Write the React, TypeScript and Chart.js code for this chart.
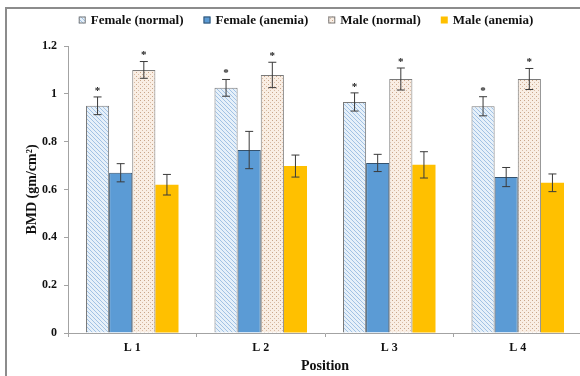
import React, { useEffect, useRef } from 'react';
import { Chart, registerables } from 'chart.js';

Chart.register(...registerables);

const categories = ['L 1', 'L 2', 'L 3', 'L 4'];
const seriesLabels = ['Female (normal)', 'Female (anemia)', 'Male (normal)', 'Male (anemia)'];

const femaleNormal = [0.95, 1.025, 0.966, 0.948];
const femaleNormalErr = [0.037, 0.035, 0.038, 0.04];
const femaleAnemia = [0.67, 0.765, 0.711, 0.652];
const femaleAnemiaErr = [0.038, 0.078, 0.036, 0.04];
const maleNormal = [1.1, 1.079, 1.062, 1.062];
const maleNormalErr = [0.035, 0.053, 0.046, 0.044];
const maleAnemia = [0.62, 0.698, 0.703, 0.628];
const maleAnemiaErr = [0.043, 0.046, 0.055, 0.037];

const yMin = 0;
const yMax = 1.2;
const yStep = 0.2;

const SERIF = "'Liberation Serif', 'Times New Roman', serif";

function makeHatch(): CanvasPattern | string {
  const c = document.createElement('canvas');
  c.width = 4;
  c.height = 4;
  const g = c.getContext('2d');
  if (!g) return '#DEEBF7';
  g.fillStyle = '#E6F0F9';
  g.fillRect(0, 0, 4, 4);
  g.strokeStyle = '#A2C2E4';
  g.lineWidth = 1;
  g.beginPath();
  g.moveTo(-1, -1);
  g.lineTo(5, 5);
  g.moveTo(3, -1);
  g.lineTo(5, 1);
  g.moveTo(-1, 3);
  g.lineTo(1, 5);
  g.stroke();
  return g.createPattern(c, 'repeat') || '#DEEBF7';
}

function makeDots(): CanvasPattern | string {
  const c = document.createElement('canvas');
  c.width = 4;
  c.height = 4;
  const g = c.getContext('2d');
  if (!g) return '#FBE5D6';
  g.fillStyle = '#F9EEE4';
  g.fillRect(0, 0, 4, 4);
  g.fillStyle = '#C9A589';
  g.fillRect(0, 0, 1, 1);
  g.fillStyle = '#D8BBA4';
  g.fillRect(2, 2, 1, 1);
  return g.createPattern(c, 'repeat') || '#FBE5D6';
}

const errorBarPlugin = {
  id: 'errorBars',
  afterDatasetsDraw(chart: any) {
    const ctx = chart.ctx;
    const yScale = chart.scales.y;
    ctx.save();
    chart.data.datasets.forEach((ds: any, i: number) => {
      const meta = chart.getDatasetMeta(i);
      meta.data.forEach((el: any, j: number) => {
        const v = ds.data[j];
        const e = ds.errors[j];
        const x = el.x;
        const yTop = yScale.getPixelForValue(v + e);
        const yBot = yScale.getPixelForValue(v - e);
        ctx.strokeStyle = '#3A3A3A';
        ctx.lineWidth = 1;
        ctx.beginPath();
        ctx.moveTo(x, yTop);
        ctx.lineTo(x, yBot);
        ctx.moveTo(x - 4, yTop);
        ctx.lineTo(x + 4, yTop);
        ctx.moveTo(x - 4, yBot);
        ctx.lineTo(x + 4, yBot);
        ctx.stroke();
        if (ds.star) {
          ctx.fillStyle = '#222';
          ctx.font = `bold 11px ${SERIF}`;
          ctx.textAlign = 'center';
          ctx.textBaseline = 'middle';
          ctx.fillText('*', x, yTop - 6);
        }
      });
    });
    ctx.restore();
  },
};

const legendPlugin = {
  id: 'topLegend',
  afterDraw(chart: any) {
    const ctx = chart.ctx;
    ctx.save();
    ctx.font = `bold 13px ${SERIF}`;
    const box = 7;
    const gap = 5;
    const itemGap = 20;
    const items = chart.data.datasets.map((ds: any) => ({
      ds,
      w: box + gap + ctx.measureText(ds.label).width,
    }));
    const total = items.reduce((s: number, it: any) => s + it.w, 0) + itemGap * (items.length - 1);
    let x = 306 - total / 2;
    const y = 20;
    items.forEach((it: any) => {
      const ds = it.ds;
      ctx.fillStyle = ds.backgroundColor;
      ctx.fillRect(x, y - box / 2, box, box);
      if (ds.borderWidth) {
        ctx.strokeStyle = ds.borderColor;
        ctx.lineWidth = 1;
        ctx.strokeRect(x + 0.5, y - box / 2 + 0.5, box - 1, box - 1);
      }
      ctx.fillStyle = '#111';
      ctx.textAlign = 'left';
      ctx.textBaseline = 'middle';
      ctx.fillText(ds.label, x + box + gap, y + 1);
      x += it.w + itemGap;
    });
    ctx.restore();
  },
};

export default function App() {
  const canvasRef = useRef<HTMLCanvasElement | null>(null);

  useEffect(() => {
    const canvas = canvasRef.current;
    if (!canvas) return;
    const hatch = makeHatch();
    const dots = makeDots();
    const axisColor = '#A3A3A3';
    const tickFont = { family: SERIF, size: 12, weight: 'bold' as const };

    const chart = new Chart(canvas, {
      type: 'bar',
      data: {
        labels: categories,
        datasets: [
          {
            label: seriesLabels[0],
            data: femaleNormal,
            backgroundColor: hatch as any,
            borderColor: '#7A7A7A',
            borderWidth: 1,
            errors: femaleNormalErr,
            star: true,
          } as any,
          {
            label: seriesLabels[1],
            data: femaleAnemia,
            backgroundColor: '#5B9BD5',
            borderColor: '#34526E',
            borderWidth: 1,
            errors: femaleAnemiaErr,
          } as any,
          {
            label: seriesLabels[2],
            data: maleNormal,
            backgroundColor: dots as any,
            borderColor: '#7A7A7A',
            borderWidth: 1,
            errors: maleNormalErr,
            star: true,
          } as any,
          {
            label: seriesLabels[3],
            data: maleAnemia,
            backgroundColor: '#FFC000',
            borderWidth: 0,
            errors: maleAnemiaErr,
          } as any,
        ],
      },
      options: {
        responsive: false,
        animation: false,
        events: [],
        layout: { padding: { left: 0, top: 46, right: 38, bottom: 1 } },
        datasets: { bar: { categoryPercentage: 0.72, barPercentage: 1 } },
        plugins: {
          legend: { display: false },
          tooltip: { enabled: false },
        },
        scales: {
          x: {
            grid: {
              offset: true,
              drawOnChartArea: false,
              drawTicks: true,
              tickLength: 4,
              color: axisColor,
            },
            border: { color: axisColor },
            ticks: { padding: 4, color: '#111', font: tickFont },
            title: {
              display: true,
              text: 'Position',
              color: '#111',
              font: { family: SERIF, size: 14, weight: 'bold' },
              padding: 0,
            },
            afterFit: (s: any) => {
              s.height = 42;
            },
          },
          y: {
            min: yMin,
            max: yMax,
            grid: {
              drawOnChartArea: false,
              drawTicks: true,
              tickLength: 4,
              color: axisColor,
            },
            border: { color: axisColor },
            ticks: {
              stepSize: yStep,
              padding: 7,
              color: '#111',
              font: tickFont,
              callback: (v: any) => String(Number(Number(v).toFixed(1))),
            },
            title: {
              display: true,
              text: 'BMD (gm/cm²)',
              color: '#111',
              font: { family: SERIF, size: 14, weight: 'bold' },
              padding: { top: 24, bottom: 0 },
            },
            afterFit: (s: any) => {
              s.width = 68;
            },
          },
        },
      } as any,
      plugins: [errorBarPlugin, legendPlugin],
    });

    return () => {
      chart.destroy();
    };
  }, []);

  return (
    <div
      style={{
        position: 'fixed',
        left: 0,
        top: 0,
        width: 580,
        height: 376,
        overflow: 'hidden',
        background: '#fff',
      }}
    >
      <div
        style={{
          position: 'absolute',
          left: 5,
          top: 7,
          width: 700,
          height: 500,
          borderLeft: '2px solid #8C8C8C',
          borderTop: '2px solid #8C8C8C',
        }}
      />
      <canvas
        ref={canvasRef}
        width={620}
        height={376}
        style={{ position: 'absolute', left: 0, top: 0, display: 'block' }}
      />
    </div>
  );
}
